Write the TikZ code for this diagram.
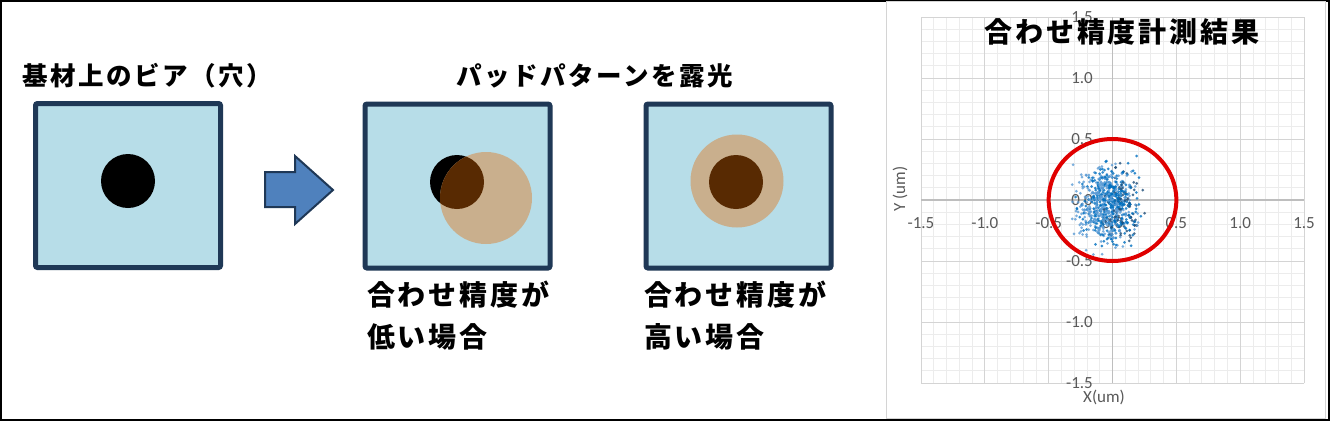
\documentclass[tikz,border=0pt]{standalone}
\usepackage{fontspec}
\newfontfamily\jp[LetterSpace=10]{Noto Sans CJK JP}
\newfontfamily\lab{Carlito}
\definecolor{boxfill}{RGB}{183,221,232}
\definecolor{boxline}{RGB}{31,56,86}
\definecolor{arrowfill}{RGB}{79,129,189}
\definecolor{padtan}{RGB}{201,175,141}
\definecolor{padbrown}{RGB}{88,42,2}
\definecolor{gridminor}{RGB}{236,236,236}
\definecolor{gridmajor}{RGB}{212,212,212}
\definecolor{axisgray}{RGB}{190,190,190}
\definecolor{labgray}{RGB}{89,89,89}
\definecolor{ptlight}{RGB}{91,155,213}
\definecolor{ptmid}{RGB}{0,112,192}
\definecolor{ptdark}{RGB}{31,78,121}
\definecolor{ringred}{RGB}{224,0,0}
\tikzset{
  substrate/.style={draw=boxline, line width=5pt, fill=boxfill, rounded corners=2pt,
    minimum width=185pt, minimum height=164pt, inner sep=0pt},
  headtext/.style={font=\jp\bfseries\fontsize{25.5}{30}\selectfont, inner sep=0pt, anchor=base},
  captext/.style={font=\jp\bfseries\fontsize{28}{34}\selectfont, inner sep=0pt, anchor=base west},
  charttitle/.style={font=\jp\bfseries\fontsize{28}{34}\selectfont, inner sep=0pt, anchor=base},
  ticklab/.style={font=\lab\fontsize{17}{20}\selectfont, text=labgray, inner sep=0pt},
}
\begin{document}
\begin{tikzpicture}[x=1pt, y=-1pt]
\useasboundingbox (0,0) rectangle (1330,421);
\fill[white] (0,0) rectangle (1330,421);
% outer frame
\draw[black, line width=1.6pt] (0.8,0.8) rectangle (1329.2,420.2);
% chart panel frame
\draw[gridmajor, line width=1pt] (886,1.5) rectangle (1325,418);

% ---------- left: substrate with via ----------
\node[headtext] (t1) at (147,85.5) {基材上のビア（穴）};
\node[substrate] (b1) at (128,185.5) {};
\fill[black] (128,181) circle[radius=27pt];

% block arrow
\filldraw[fill=arrowfill, draw=boxline, line width=2pt, line join=miter]
  (265,172) -- (295,172) -- (295,156) -- (333,190) -- (295,224) -- (295,207) -- (265,207) -- cycle;

% ---------- middle: exposure ----------
\node[headtext] (t2) at (595,85.5) {パッドパターンを露光};
\node[substrate] (b2) at (457.5,186) {};
\node[substrate] (b3) at (738.5,186) {};
% low accuracy
\fill[black] (457,182) circle[radius=27pt];
\fill[padtan] (486,198) circle[radius=46pt];
\begin{scope}
  \clip (486,198) circle[radius=46pt];
  \fill[padbrown] (457,182) circle[radius=27pt];
\end{scope}
% high accuracy
\fill[padtan] (737,181) circle[radius=46.5pt];
\fill[padbrown] (736,182) circle[radius=27pt];

\node[captext] (c1a) at (367,305.5) {合わせ精度が};
\node[captext] (c1b) at (367,347.5) {低い場合};
\node[captext] (c2a) at (644,305.5) {合わせ精度が};
\node[captext] (c2b) at (644,347.5) {高い場合};

% ---------- right: measurement chart ----------
\begin{scope}[shift={(1112.5pt,-200pt)}, x=127.67pt, y=122pt]
  \foreach \k in {-15,...,15}{
    \draw[gridminor, line width=0.8pt] (\k/10,-1.5) -- (\k/10,1.5);
    \draw[gridminor, line width=0.8pt] (-1.5,\k/10) -- (1.5,\k/10);
  }
  \foreach \k in {-3,...,3}{
    \draw[gridmajor, line width=1pt] (\k/2,-1.5) -- (\k/2,1.5);
    \draw[gridmajor, line width=1pt] (-1.5,\k/2) -- (1.5,\k/2);
  }
  \draw[axisgray, line width=1.2pt] (0,-1.5) -- (0,1.5);
  \draw[axisgray, line width=1.2pt] (-1.5,0) -- (1.5,0);
  \foreach \v/\t [count=\n] in {-1.5/-1.5,-1/-1.0,-0.5/-0.5,0/0.0,0.5/0.5,1/1.0,1.5/1.5}{
    \node[ticklab, anchor=base, yshift=-28pt] (xl\n) at (\v,0) {\t};
    \node[ticklab, anchor=base east, xshift=-19.5pt, yshift=-5.4pt] (yl\n) at (0,\v) {\t};
  }
  \pgfmathsetseed{2024}
  \foreach \i in {1,...,800}{
    \pgfmathsetmacro{\gx}{-0.035+0.11*(rand+rand+rand)}
    \pgfmathsetmacro{\gy}{-0.04+0.15*(rand+rand+rand)}
    \pgfmathsetmacro{\gc}{rnd+1.4*\gx}
    \ifdim \gc pt<0.42pt \def\pc{ptlight}\else\ifdim \gc pt<0.88pt \def\pc{ptmid}\else\def\pc{ptdark}\fi\fi
    \fill[\pc, opacity=0.8] (\gx,\gy) circle[radius=1.5pt];
  }
  \draw[ringred, line width=4pt] (0,0) circle[radius=0.5];
\end{scope}
\node[ticklab, rotate=90] (ylab) at (900,189) {Y (um)};
\node[ticklab] (xlab) at (1104,397) {X(um)};
\node[charttitle] (t3) at (1122,42.6) {合わせ精度計測結果};
\end{tikzpicture}
\end{document}
